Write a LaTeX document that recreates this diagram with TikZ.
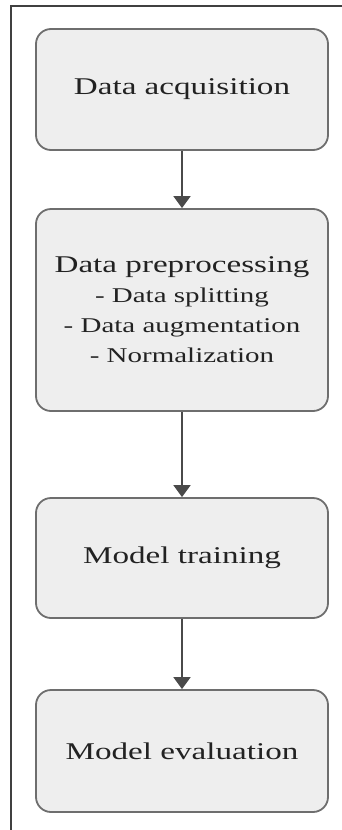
\documentclass[tikz,border=0pt]{standalone}
\usepackage{fontspec}
\setmainfont{Liberation Serif}
\usetikzlibrary{arrows.meta}
\definecolor{boxfill}{HTML}{EEEEEE}
\definecolor{boxline}{HTML}{6E6E6E}
\definecolor{arrowline}{HTML}{4A4A4A}
\definecolor{framecol}{HTML}{404040}
\definecolor{txt}{HTML}{222222}
\newcommand{\wide}[1]{\scalebox{1.38}[1]{#1}}
\tikzset{
  stepbox/.style={draw=boxline, fill=boxfill, line width=1.8pt, rounded corners=15pt,
    minimum width=292pt, inner sep=0pt, text=txt, align=center,
    font=\fontsize{24}{30}\selectfont},
  flow/.style={draw=arrowline, line width=1.8pt,
    -{Triangle[length=12pt,width=17pt]}},
  frame/.style={draw=framecol, line width=2pt}
}
\begin{document}
\begin{tikzpicture}[x=1pt,y=-1pt]
\useasboundingbox (0,0) rectangle (342,830);
\fill[white] (0,0) rectangle (342,830);
\coordinate (fbl) at (11,830);
\coordinate (ftl) at (11,6);
\coordinate (ftr) at (342,6);
\draw[frame] (fbl) -- (ftl) -- (ftr);
\node[stepbox, minimum height=121pt] (acq) at (182,89.5) {\wide{Data acquisition}};
\node[stepbox, minimum height=202pt] (pre) at (182,310) {\wide{Data preprocessing}\\
  \wide{\fontsize{21}{30}\selectfont - Data splitting}\\
  \wide{\fontsize{21}{30}\selectfont - Data augmentation}\\
  \wide{\fontsize{21}{30}\selectfont - Normalization}};
\node[stepbox, minimum height=120pt] (train) at (182,558) {\wide{Model training}};
\node[stepbox, minimum height=122pt] (eval) at (182,751) {\wide{Model evaluation}};
\draw[flow] (acq) -- (pre);
\draw[flow] (pre) -- (train);
\draw[flow] (train) -- (eval);
\end{tikzpicture}
\end{document}
